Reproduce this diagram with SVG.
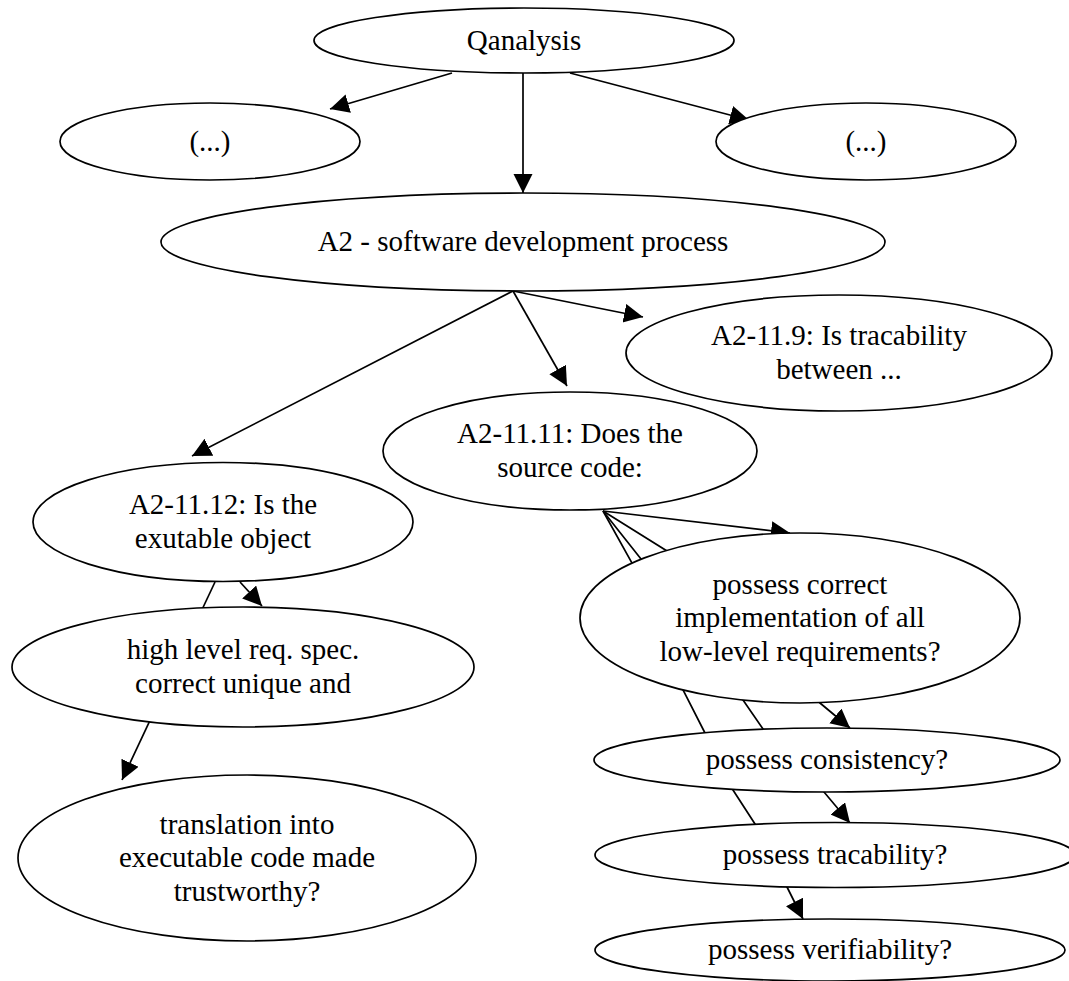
<svg xmlns="http://www.w3.org/2000/svg" width="1069" height="981" viewBox="0 0 1069 981">
  <style>
    .node ellipse { fill: #ffffff; stroke: #000000; stroke-width: 1.7; }
    .node text { font-size: 29px; fill: #000000; text-anchor: middle; }
    .edge { fill: none; stroke: #000000; stroke-width: 1.7; marker-end: url(#arrow); }
  </style>
  <defs>
    <marker id="arrow" markerUnits="userSpaceOnUse" markerWidth="20" markerHeight="20" refX="19" refY="9.5" orient="auto">
      <path d="M0,0 L19,9.5 L0,19 Z" fill="#000000"/>
    </marker>
  </defs>

  <!-- connectors (drawn first so the filled nodes sit on top of them) -->
  <g id="edges">
    <path class="edge" d="M452,73 L330,109"/>
    <path class="edge" d="M523,73 L523,193"/>
    <path class="edge" d="M570,73 L749,120"/>
    <path class="edge" d="M513,291 L192,456"/>
    <path class="edge" d="M513,291 L567,386"/>
    <path class="edge" d="M513,291 L643,317"/>
    <path class="edge" d="M240,582 L262,606"/>
    <path class="edge" d="M215,582 L122,780"/>
    <path class="edge" d="M603,511 L790,533"/>
    <path class="edge" d="M603,511 L667,551 L820,703 L850,728"/>
    <path class="edge" d="M603,511 L641,559 L743,700 L763,729 L824,792 L850,823"/>
    <path class="edge" d="M603,511 L632,563 L682,688 L705,733 L733,790 L755,824 L787,887 L803,919"/>
  </g>

  <g font-family="'Liberation Serif', 'Times New Roman', Times, 'DejaVu Serif', serif">
    <g id="qanalysis" class="node">
      <ellipse cx="524" cy="40.5" rx="210" ry="32.5"/>
      <text x="524" y="50">Qanalysis</text>
    </g>
    <g id="more-left" class="node">
      <ellipse cx="210" cy="141.5" rx="150" ry="38.5"/>
      <text x="210" y="151">(...)</text>
    </g>
    <g id="more-right" class="node">
      <ellipse cx="866" cy="141.5" rx="150" ry="38.5"/>
      <text x="866" y="151">(...)</text>
    </g>
    <g id="a2" class="node">
      <ellipse cx="523" cy="242" rx="362" ry="49"/>
      <text x="523" y="251">A2 - software development process</text>
    </g>
    <g id="a2-11-9" class="node">
      <ellipse cx="839" cy="353" rx="213" ry="58"/>
      <text x="839" y="345">A2-11.9: Is tracability</text>
      <text x="839" y="378.5">between ...</text>
    </g>
    <g id="a2-11-11" class="node">
      <ellipse cx="570" cy="451" rx="187" ry="59"/>
      <text x="570" y="443">A2-11.11: Does the</text>
      <text x="570" y="476.5">source code:</text>
    </g>
    <g id="a2-11-12" class="node">
      <ellipse cx="223" cy="522" rx="190" ry="59.5"/>
      <text x="223" y="514">A2-11.12: Is the</text>
      <text x="223" y="547.5">exutable object</text>
    </g>
    <g id="high-level" class="node">
      <ellipse cx="243" cy="667" rx="231" ry="60"/>
      <text x="243" y="659">high level req. spec.</text>
      <text x="243" y="692.5">correct unique and</text>
    </g>
    <g id="translation" class="node">
      <ellipse cx="247" cy="858" rx="229" ry="83"/>
      <text x="247" y="833.5">translation into</text>
      <text x="247" y="867">executable code made</text>
      <text x="247" y="900.5">trustworthy?</text>
    </g>
    <g id="possess-correct" class="node">
      <ellipse cx="800" cy="618" rx="220" ry="85"/>
      <text x="800" y="593.5">possess correct</text>
      <text x="800" y="627">implementation of all</text>
      <text x="800" y="660.5">low-level requirements?</text>
    </g>
    <g id="possess-consistency" class="node">
      <ellipse cx="827" cy="760" rx="233" ry="32"/>
      <text x="827" y="769">possess consistency?</text>
    </g>
    <g id="possess-tracability" class="node">
      <ellipse cx="835" cy="855" rx="240" ry="32.5"/>
      <text x="835" y="864">possess tracability?</text>
    </g>
    <g id="possess-verifiability" class="node">
      <ellipse cx="830" cy="950" rx="235" ry="31"/>
      <text x="830" y="959">possess verifiability?</text>
    </g>
  </g>
</svg>
